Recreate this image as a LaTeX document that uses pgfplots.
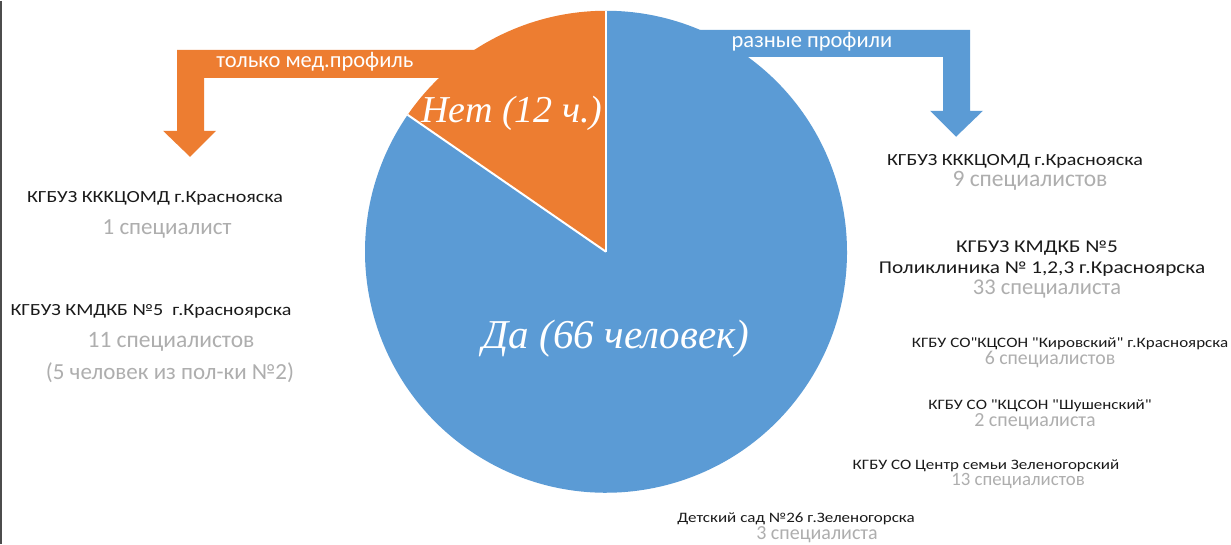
\documentclass[border=0pt]{standalone}
\usepackage{fontspec}
\setmainfont{Carlito}[FakeStretch=1.18, Ligatures=TeXOff]
\newfontfamily\plainfont{Carlito}[Ligatures=TeXOff]
\newfontfamily\slicefont{Liberation Serif}
\usepackage{pgfplots}
\usepackage{pgfplotstable}
\pgfplotsset{compat=1.18}

\definecolor{pieblue}{HTML}{5B9BD5}
\definecolor{pieorange}{HTML}{ED7D31}
\definecolor{txtdark}{HTML}{1A1A1A}
\definecolor{txtgray}{HTML}{AEAEAE}

% answers to the question: yes / no
\pgfplotstableread{
answer value
yes 66
no 12
}\piedata
\pgfplotstablegetelem{0}{value}\of\piedata \let\valyes\pgfplotsretval
\pgfplotstablegetelem{1}{value}\of\piedata \let\valno\pgfplotsretval
\pgfmathsetmacro\angno{90+360*\valno/(\valyes+\valno)}

\newcommand\fs[1]{\fontsize{#1}{#1}\selectfont}
\newcommand\gs[1]{\plainfont\fontsize{#1}{#1}\selectfont}

\begin{document}
\begin{tikzpicture}
\begin{axis}[
  width=1231pt, height=543pt, scale only axis,
  xmin=0, xmax=1231, ymin=0, ymax=543, y dir=reverse,
  hide axis, clip=false]

% background and left frame line
\fill[white] (axis cs:0,0) rectangle (axis cs:1231,543);
\draw[black!70, line width=1.5pt] (axis cs:0.75,0) -- (axis cs:0.75,543);

% bent arrows
\fill[pieorange] (axis cs:500,49) -- (axis cs:177,49) -- (axis cs:177,130)
  -- (axis cs:163,130) -- (axis cs:190,156) -- (axis cs:216,130)
  -- (axis cs:204,130) -- (axis cs:204,77) -- (axis cs:500,77) -- cycle;
\fill[pieblue] (axis cs:700,29) -- (axis cs:970,29) -- (axis cs:970,110)
  -- (axis cs:983,110) -- (axis cs:956,136) -- (axis cs:930,110)
  -- (axis cs:943,110) -- (axis cs:943,56) -- (axis cs:700,56) -- cycle;

% pie
\fill[pieorange] (axis cs:606,251) -- ++(90:241pt)
  arc[start angle=90, end angle=\angno, radius=241pt] -- cycle;
\fill[pieblue] (axis cs:606,251) -- ++(\angno:241pt)
  arc[start angle=\angno, end angle=450, radius=241pt] -- cycle;
\draw[white, line width=2pt] (axis cs:606,251) -- ++(90:241pt);
\draw[white, line width=2pt] (axis cs:606,251) -- ++(\angno:241pt);

% slice labels
\node[anchor=base, text=white, font=\slicefont\itshape\fs{38}] at (axis cs:512,122) {Нет (12 ч.)};
\node[anchor=base, text=white, font=\slicefont\itshape\fs{41}] at (axis cs:616,348) {Да (66 человек)};

% arrow captions
\node[anchor=base, text=white, font=\gs{22.5}] at (axis cs:315,67) {только мед.профиль};
\node[anchor=base, text=white, font=\gs{22.5}] at (axis cs:812,47) {разные профили};

% left notes
\node[anchor=base, text=txtdark, font=\fs{17}] at (axis cs:155,202) {КГБУЗ ККKЦОМД г.Краснояска};
\node[anchor=base, text=txtgray, font=\gs{23}] at (axis cs:167,234) {1 специалист};
\node[anchor=base, text=txtdark, font=\fs{17}] at (axis cs:151,315) {КГБУЗ КМДКБ №5 \ г.Красноярска};
\node[anchor=base, text=txtgray, font=\gs{23.5}] at (axis cs:171,347) {11 специалистов};
\node[anchor=base, text=txtgray, font=\gs{23}] at (axis cs:170,379) {(5 человек из пол-ки №2)};

% right notes
\node[anchor=base, text=txtdark, font=\fs{17}] at (axis cs:1015,165) {КГБУЗ ККKЦОМД г.Краснояска};
\node[anchor=base, text=txtgray, font=\gs{23.5}] at (axis cs:1030,186) {9 специалистов};
\node[anchor=base, text=txtdark, font=\fs{18}] at (axis cs:1037,252) {КГБУЗ КМДКБ №5};
\node[anchor=base, text=txtdark, font=\fs{18}] at (axis cs:1042,273) {Поликлиника № 1,2,3 г.Красноярска};
\node[anchor=base, text=txtgray, font=\gs{22.5}] at (axis cs:1047,294) {33 специалиста};
\node[anchor=base, text=txtdark, font=\fs{14.4}, inner sep=1pt] at (axis cs:1070,347) {КГБУ СО"КЦСОН "Кировский" г.Красноярска};
\node[anchor=base, text=txtgray, font=\gs{19.8}, inner sep=1pt] at (axis cs:1050,364) {6 специалистов};
\node[anchor=base, text=txtdark, font=\fs{14.4}, inner sep=1pt] at (axis cs:1040,409) {КГБУ СО "КЦСОН "Шушенский"};
\node[anchor=base, text=txtgray, font=\gs{20}, inner sep=1pt] at (axis cs:1035,426) {2 специалиста};
\node[anchor=base, text=txtdark, font=\fs{14.4}, inner sep=1pt] at (axis cs:986,469) {КГБУ СО Центр семьи Зеленогорский};
\node[anchor=base, text=txtgray, font=\gs{18.8}, inner sep=1pt] at (axis cs:1018,485) {13 специалистов};
\node[anchor=base, text=txtdark, font=\fs{14.4}, inner sep=1pt] at (axis cs:796,522) {Детский сад №26 г.Зеленогорска};
\node[anchor=base, text=txtgray, font=\gs{20}, inner sep=1pt] at (axis cs:817,539) {3 специалиста};
\end{axis}
\end{tikzpicture}
\end{document}
